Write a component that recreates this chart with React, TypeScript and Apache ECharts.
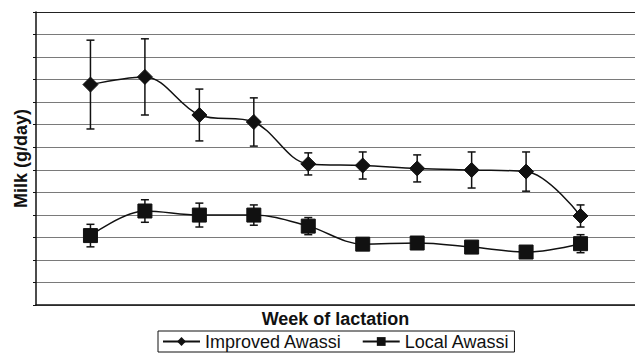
import React, { useEffect, useRef } from "react";
import * as echarts from "echarts";

const weeks = [1, 2, 3, 4, 5, 6, 7, 8, 9, 10];
const improvedMean = [978, 1012, 843, 812, 626, 619, 606, 599, 592, 395];
const improvedErr = [197, 169, 115, 107, 49, 60, 60, 80, 87, 49];
const localMean = [308, 417, 399, 399, 350, 270, 275, 257, 235, 272];
const localErr = [50, 50, 53, 45, 38, 18, 18, 18, 15, 40];
const seriesNames = ["Improved Awassi", "Local Awassi"];

const FONT = "'Liberation Sans', Arial, Helvetica, sans-serif";

function errData(mean: number[], err: number[]) {
  return weeks.map((w, i) => [w, mean[i] - err[i], mean[i] + err[i]]);
}

function renderErr(params: any, api: any) {
  const x = api.value(0);
  const lo = api.coord([x, api.value(1)]);
  const hi = api.coord([x, api.value(2)]);
  const w = 4;
  const style = { stroke: "#111", lineWidth: 1.5 };
  return {
    type: "group",
    children: [
      { type: "line", shape: { x1: hi[0], y1: hi[1], x2: lo[0], y2: lo[1] }, style },
      { type: "line", shape: { x1: hi[0] - w, y1: hi[1], x2: hi[0] + w, y2: hi[1] }, style },
      { type: "line", shape: { x1: lo[0] - w, y1: lo[1], x2: lo[0] + w, y2: lo[1] }, style },
    ],
  };
}

const gridColors = [
  "#7a7a7a", "#7a7a7a", "#7a7a7a", "#7a7a7a", "#7a7a7a", "#7a7a7a", "#7a7a7a",
  "#7a7a7a", "#7a7a7a", "#7a7a7a", "#7a7a7a", "#7a7a7a", "#7a7a7a", "#222",
];

export default function App() {
  const ref = useRef<HTMLDivElement>(null);
  useEffect(() => {
    if (!ref.current) return;
    const chart = echarts.init(ref.current, undefined, { renderer: "svg" });
    chart.setOption({
      animation: false,
      backgroundColor: "#fff",
      textStyle: { fontFamily: FONT },
      grid: { left: 36, top: 12, width: 607, height: 293, containLabel: false },
      legend: {
        data: seriesNames,
        left: 158,
        top: 331,
        orient: "horizontal",
        borderColor: "#111",
        borderWidth: 1,
        padding: [0, 5, 0, 4],
        itemWidth: 37,
        itemHeight: 11,
        itemGap: 20,
        textStyle: { fontSize: 18, color: "#111", fontFamily: FONT, lineHeight: 21 },
      },
      xAxis: {
        type: "value",
        min: 0,
        max: 11,
        interval: 1,
        name: "Week of lactation",
        nameLocation: "middle",
        nameGap: 5,
        nameTextStyle: { fontSize: 18, fontWeight: "bold", color: "#111", fontFamily: FONT },
        axisLine: { show: true, lineStyle: { color: "#111", width: 1.5 } },
        axisTick: { show: false },
        axisLabel: { show: false },
        splitLine: { show: false },
      },
      yAxis: {
        type: "value",
        min: 0,
        max: 1300,
        interval: 100,
        name: "Milk (g/day)",
        nameLocation: "middle",
        nameGap: 6,
        nameRotate: 90,
        nameTextStyle: { fontSize: 18, fontWeight: "bold", color: "#111", fontFamily: FONT },
        axisLine: { show: true, lineStyle: { color: "#111", width: 1.5 } },
        axisTick: { show: true, inside: false, length: 3, lineStyle: { color: "#111" } },
        axisLabel: { show: false },
        splitLine: { show: true, lineStyle: { color: gridColors, width: 1 } },
      },
      series: [
        {
          type: "custom",
          renderItem: renderErr,
          data: errData(improvedMean, improvedErr),
          z: 1,
          silent: true,
        },
        {
          type: "custom",
          renderItem: renderErr,
          data: errData(localMean, localErr),
          z: 1,
          silent: true,
        },
        {
          name: seriesNames[0],
          type: "line",
          data: weeks.map((w, i) => [w, improvedMean[i]]),
          smooth: 0.35,
          symbol: "diamond",
          symbolSize: 15,
          lineStyle: { color: "#111", width: 1.5 },
          itemStyle: { color: "#111", borderColor: "#111" },
          z: 3,
        },
        {
          name: seriesNames[1],
          type: "line",
          data: weeks.map((w, i) => [w, localMean[i]]),
          smooth: 0.35,
          symbol: "rect",
          symbolSize: 14,
          lineStyle: { color: "#111", width: 1.5 },
          itemStyle: { color: "#111", borderColor: "#111" },
          z: 3,
        },
      ],
    });
    return () => chart.dispose();
  }, []);
  return (
    <div
      ref={ref}
      style={{ position: "fixed", left: 0, top: 0, width: 635, height: 354, background: "#fff" }}
    />
  );
}
